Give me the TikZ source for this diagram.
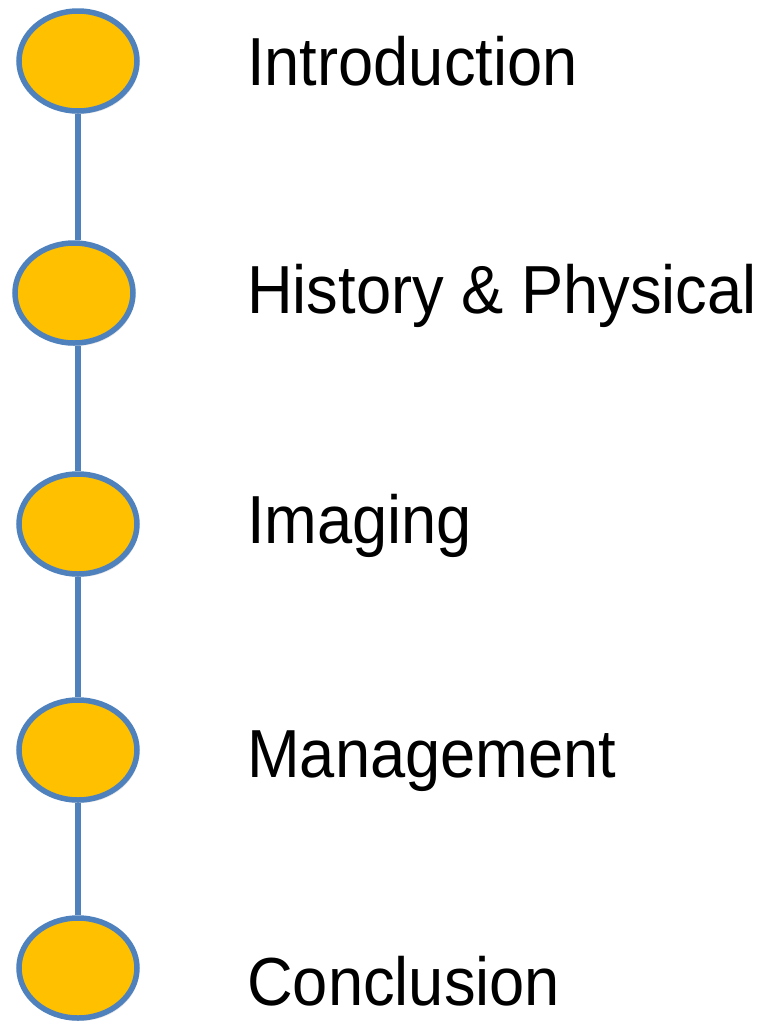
\documentclass[tikz,border=0pt]{standalone}
\usepackage{fontspec}
\setmainfont{Liberation Sans}
\usepackage{tikz}
\usetikzlibrary{shapes.geometric, backgrounds, shadows}
\definecolor{stepfill}{RGB}{255, 192, 0}
\definecolor{stepedge}{RGB}{79, 129, 189}
\newcommand{\steptext}[1]{\scalebox{0.93}[1]{#1}}

\begin{document}
\begin{tikzpicture}[x=1pt, y=-1pt,
    stepdot/.style={draw=stepedge, fill=stepfill, ellipse, line width=5.5pt, inner sep=0pt,
        minimum width=118pt, minimum height=100pt,
        drop shadow={opacity=0.2, shadow xshift=2pt, shadow yshift=-3pt}},
    steplabel/.style={anchor=base west, inner sep=0pt, font=\fontsize{68}{72}\selectfont},
    stepline/.style={draw=stepedge, line width=6pt}]
    \useasboundingbox (0, 0) rectangle (765, 1021);

    % Steps
    \node[stepdot] (intro) at (78, 61) {};
    \node[stepdot] (history) at (74, 293) {};
    \node[stepdot] (imaging) at (78, 524) {};
    \node[stepdot] (manage) at (78, 750) {};
    \node[stepdot] (concl) at (78, 968) {};

    % Labels
    \node[steplabel] (introtxt) at (247, 85) {\steptext{Introduction}};
    \node[steplabel] (historytxt) at (247, 313) {\steptext{History \& Physical}};
    \node[steplabel] (imagingtxt) at (247, 543) {\steptext{Imaging}};
    \node[steplabel] (managetxt) at (247, 777) {\steptext{Management}};
    \node[steplabel] (concltxt) at (247, 1005) {\steptext{Conclusion}};

    % Timeline
    \begin{scope}[on background layer]
        \draw[stepline] (intro.south) -- (intro.south |- history.north);
        \draw[stepline] (intro.south |- history.south) -- (imaging.north);
        \draw[stepline] (imaging.south) -- (manage.north);
        \draw[stepline] (manage.south) -- (concl.north);
    \end{scope}
\end{tikzpicture}
\end{document}
